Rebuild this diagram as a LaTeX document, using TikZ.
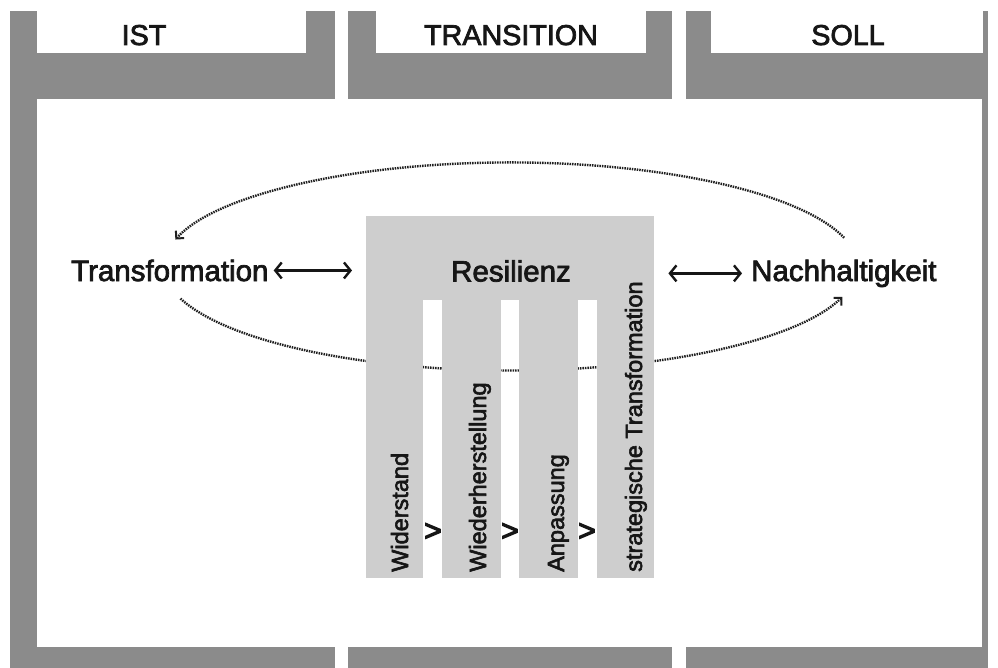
\documentclass[tikz,border=0pt]{standalone}
\usepackage{fontspec}
\setmainfont{Liberation Sans}
\newfontfamily\medfont{Liberation Sans}[FakeBold=2.5]
\newfontfamily\boldchev{Liberation Sans}[FakeBold=4]
\usetikzlibrary{arrows.meta}
\definecolor{darkgr}{RGB}{139,139,139}
\definecolor{lightgr}{RGB}{206,206,206}
\definecolor{ink}{RGB}{22,22,22}
\begin{document}
\begin{tikzpicture}[x=1pt,y=1pt,
  lbl/.style={font=\medfont\fontsize{29.5}{30}\selectfont, text=ink, inner sep=0pt},
  hdr/.style={font=\medfont\fontsize{28.7}{30}\selectfont, text=ink, inner sep=0pt, anchor=base},
  vlbl/.style={font=\medfont\fontsize{23.5}{24}\selectfont, text=ink, inner sep=0pt, rotate=90, anchor=base west},
  chev/.style={font=\boldchev\fontsize{30}{30}\selectfont, text=ink, inner sep=0pt},
  dotline/.style={draw=black!88, line width=2.4pt, dash pattern=on 1.5pt off 1pt},
  dottip/.style={-{Straight Barb[length=5.5pt,width=11pt,line width=2pt]}},
  dbl/.style={line width=2.4pt, draw=ink, {Straight Barb[length=6.5pt,width=16pt]}-{Straight Barb[length=6.5pt,width=16pt]}}]

\useasboundingbox (0,0) rectangle (998,-668);
\fill[white] (0,0) rectangle (998,-668);

% columns
\fill[darkgr] (10,-11) rectangle (335,-668);
\fill[darkgr] (348,-11) rectangle (672,-668);
\fill[darkgr] (686,-11) rectangle (988,-668);
% header boxes
\fill[white] (37,-11) rectangle (306,-53);
\fill[white] (376,-11) rectangle (646,-53);
\fill[white] (711,-11) rectangle (983,-53);
% main box
\fill[white] (37,-99) rectangle (982,-647);

\node[hdr] (ist) at (144,-45) {IST};
\node[hdr] (trans) at (511,-45) {TRANSITION};
\node[hdr] (soll) at (848,-45) {SOLL};

% dotted cycle
\coordinate (u0) at (844.1,-237.8);
\coordinate (l0) at (180.5,-298.6);
\draw[dotline, dottip] (u0) arc[start angle=16, end angle=165, x radius=347, y radius=104];
\draw[dotline, dottip] (l0) arc[start angle=198, end angle=343, x radius=347, y radius=104];

% Resilienz block
\node[minimum width=288pt, minimum height=362pt, inner sep=0pt, anchor=north west] (res) at (366,-216) {};
\fill[lightgr] (366,-216) rectangle (654,-300);
\fill[lightgr] (366,-300) rectangle (423,-578);
\fill[lightgr] (442,-300) rectangle (501,-578);
\fill[lightgr] (519,-300) rectangle (578,-578);
\fill[lightgr] (597,-300) rectangle (654,-578);

\node[lbl, anchor=base] (resl) at (511,-281.5) {Resilienz};
\node[lbl, anchor=base west] (tr) at (71,-281) {Transformation};
\node[lbl, anchor=base west] (nh) at (751,-281) {Nachhaltigkeit};

\node[vlbl] (p1) at (408,-572) {Widerstand};
\node[vlbl] (p2) at (486,-572) {Wiederherstellung};
\node[vlbl] (p3) at (564,-572) {Anpassung};
\node[vlbl] (p4) at (642,-572) {strategische Transformation};

\node[chev] (g1) at (433,-532) {>};
\node[chev] (g2) at (510,-532) {>};
\node[chev] (g3) at (587,-532) {>};

\draw[dbl, shorten <=5pt, shorten >=14pt] (tr.east) -- (tr.east -| res.west);
\draw[dbl, shorten <=14pt, shorten >=9pt] (nh.west -| res.east) -- (nh.west);
\end{tikzpicture}
\end{document}
